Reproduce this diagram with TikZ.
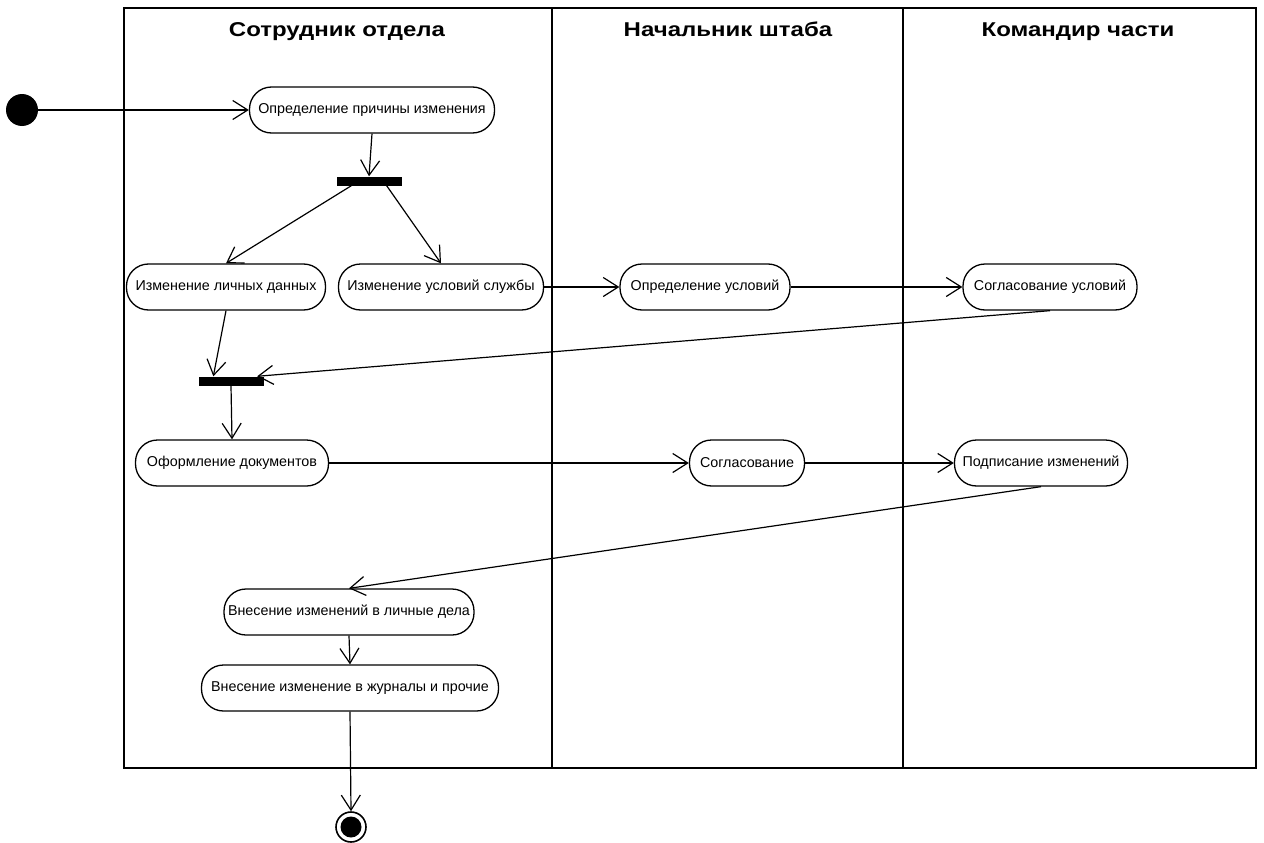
\documentclass[tikz,border=0pt]{standalone}
\usepackage{fontspec}
\usepackage{graphicx}
\setmainfont{Liberation Sans}
\usetikzlibrary{arrows.meta,calc}
\newcommand{\hdrtext}[1]{\scalebox{1.2}[1]{#1}}
\begin{document}
\begin{tikzpicture}[x=1pt,y=-1pt,
  act/.style={draw, line width=1.3pt, rounded corners=22pt, minimum height=46pt, inner sep=0pt, font=\fontsize{14.3}{17}\selectfont},
  bar/.style={fill=black, draw=none, minimum width=65pt, minimum height=9pt, inner sep=0pt},
  flow/.style={line width=1.2pt, -{Straight Barb[length=15pt,width=19pt,line width=1.2pt]}},
  lane/.style={line width=1.3pt},
  hdr/.style={anchor=base, inner sep=0pt, font=\bfseries\fontsize{20}{24}\selectfont}]
\useasboundingbox (0,0) rectangle (1264,843);
% swimlanes
\draw[lane] (124,8) rectangle (1256,768);
\draw[lane] (552,8) -- (552,768);
\draw[lane] (903,8) -- (903,768);
\node[hdr] (h1) at (337,37) {\hdrtext{Сотрудник отдела}};
\node[hdr] (h2) at (728,37) {\hdrtext{Начальник штаба}};
\node[hdr] (h3) at (1078,37) {\hdrtext{Командир части}};
% nodes
\node[circle, fill=black, minimum size=32pt, inner sep=0pt] (s) at (22,110) {};
\node[act, minimum width=245pt] (A) at (372,110) {Определение причины изменения};
\node[bar] (f1) at (369,181) {};
\node[act, minimum width=199pt] (B) at (226,287) {Изменение личных данных};
\node[act, minimum width=205pt] (C) at (441,287) {Изменение условий службы};
\node[act, minimum width=170pt] (D) at (705,287) {Определение условий};
\node[act, minimum width=174pt] (E) at (1050,287) {Согласование условий};
\node[bar] (f2) at (231,381) {};
\node[act, minimum width=193pt] (F) at (232,463) {Оформление документов};
\node[act, minimum width=115pt] (G) at (747,463) {Согласование};
\node[act, minimum width=173pt] (H) at (1041,463) {Подписание изменений};
\node[act, minimum width=250pt] (I) at (349,612) {Внесение изменений в личные дела};
\node[act, minimum width=297pt] (J) at (350,688) {Внесение изменение в журналы и прочие};
\node[circle, draw=black, line width=1.6pt, fill=white, minimum size=30pt, inner sep=0pt] (e) at (351,827) {};
\fill[black] (e.center) circle (10.5);
% flows
\draw[flow] (s) -- (A);
\draw[flow] (A.south) -- (f1.north);
\draw[flow] ($(f1.south west)!0.23!(f1.south east)$) -- (B.north);
\draw[flow] ($(f1.south west)!0.77!(f1.south east)$) -- (C.north);
\draw[flow] (C) -- (D);
\draw[flow] (D) -- (E);
\draw[flow] (E.south) -- ($(f2.north west)!0.9!(f2.north east)$);
\draw[flow] (B.south) -- ($(f2.north west)!0.23!(f2.north east)$);
\draw[flow] (f2.south) -- (F.north);
\draw[flow] (F) -- (G);
\draw[flow] (G) -- (H);
\draw[flow] (H.south) -- (I.north);
\draw[flow] (I.south) -- (J.north);
\draw[flow] (J.south) -- (e.north);
\end{tikzpicture}
\end{document}
